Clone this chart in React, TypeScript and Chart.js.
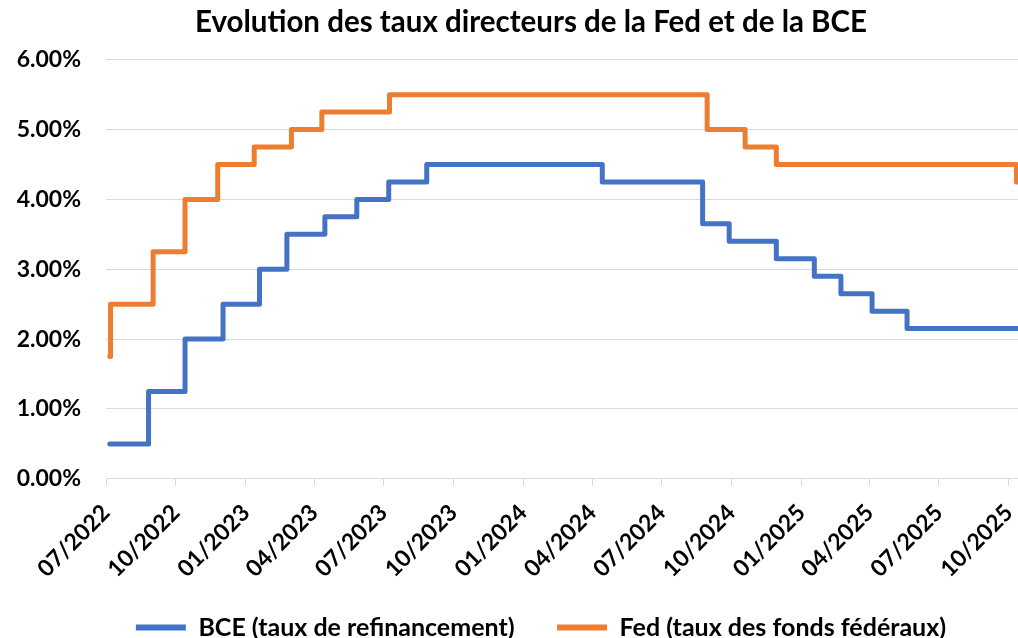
import { useEffect, useRef } from "react";
import { Chart, registerables } from "chart.js";

Chart.register(...registerables);

// ---- Data ----
const titleText = "Evolution des taux directeurs de la Fed et de la BCE";
const axisStart = "2022-07-01";
const axisEnd = "2025-10-13";
const xTickLabels = [
  "07/2022", "10/2022", "01/2023", "04/2023", "07/2023", "10/2023", "01/2024",
  "04/2024", "07/2024", "10/2024", "01/2025", "04/2025", "07/2025", "10/2025",
];
const yTickValues = [0, 1, 2, 3, 4, 5, 6];

const bceLabel = "BCE (taux de refinancement)";
const bceDates = [
  "2022-07-06", "2022-08-26", "2022-10-13", "2022-12-02", "2023-01-19", "2023-02-24",
  "2023-04-15", "2023-05-27", "2023-07-08", "2023-08-27", "2024-04-14", "2024-08-24",
  "2024-09-28", "2024-11-29", "2025-01-18", "2025-02-22", "2025-04-04", "2025-05-20",
  "2025-10-13",
];
const bceRates = [
  0.5, 1.25, 2.0, 2.5, 3.0, 3.5,
  3.75, 4.0, 4.25, 4.5, 4.25, 3.65,
  3.4, 3.15, 2.9, 2.65, 2.4, 2.15,
  2.15,
];

const fedLabel = "Fed (taux des fonds fédéraux)";
const fedDates = [
  "2022-07-06", "2022-07-07", "2022-09-01", "2022-10-13", "2022-11-25", "2023-01-12",
  "2023-03-02", "2023-04-11", "2023-07-09", "2024-08-30", "2024-10-19", "2024-11-29",
  "2025-10-11", "2025-10-13",
];
const fedRates = [
  1.75, 2.5, 3.25, 4.0, 4.5, 4.75,
  5.0, 5.25, 5.5, 5.0, 4.75, 4.5,
  4.25, 4.25,
];

// ---- Helpers ----
const DAY = 86400000;
const startMs = (() => {
  const [y, m, d] = axisStart.split("-").map(Number);
  return Date.UTC(y, m - 1, d);
})();
const dayOf = (iso: string) => {
  const [y, m, d] = iso.split("-").map(Number);
  return Math.round((Date.UTC(y, m - 1, d) - startMs) / DAY);
};
const tickDay = (label: string) => {
  const [m, y] = label.split("/").map(Number);
  return Math.round((Date.UTC(y, m - 1, 1) - startMs) / DAY);
};
const tickMap = new Map<number, string>(xTickLabels.map((l) => [tickDay(l), l]));

const FONT = "Lato, 'Noto Sans', sans-serif";
const BLUE = "#4472C4";
const ORANGE = "#ED7D31";
const GRID = "#d9d9d9";

const TITLE_SHIFT = 22;
const LEGEND_SHIFT = 32;

export default function App() {
  const ref = useRef<HTMLCanvasElement | null>(null);

  useEffect(() => {
    if (!ref.current) return;
    const blockShift = {
      id: "blockShift",
      afterLayout(chart: any) {
        const lg = chart.legend;
        if (lg) {
          lg.left += LEGEND_SHIFT;
          lg.right += LEGEND_SHIFT;
        }
        const tb = chart.titleBlock;
        if (tb) {
          tb.left += TITLE_SHIFT;
          tb.right += TITLE_SHIFT;
        }
      },
    };
    const chart = new Chart(ref.current, {
      type: "line",
      data: {
        datasets: [
          {
            label: bceLabel,
            data: bceDates.map((d, i) => ({ x: dayOf(d), y: bceRates[i] })),
            borderColor: BLUE,
            backgroundColor: BLUE,
            borderWidth: 5,
            pointRadius: 0,
            stepped: "before",
            borderCapStyle: "round",
            borderJoinStyle: "round",
          },
          {
            label: fedLabel,
            data: fedDates.map((d, i) => ({ x: dayOf(d), y: fedRates[i] })),
            borderColor: ORANGE,
            backgroundColor: ORANGE,
            borderWidth: 5,
            pointRadius: 0,
            stepped: "before",
            borderCapStyle: "round",
            borderJoinStyle: "round",
          },
        ],
      },
      options: {
        responsive: false,
        animation: false,
        devicePixelRatio: 1,
        layout: { padding: { left: 0, right: 0, top: 0, bottom: -12 } },
        plugins: {
          title: {
            display: true,
            text: titleText,
            color: "#000",
            font: { family: FONT, size: 29.5, weight: "bold", lineHeight: 1.2 },
            padding: { top: 4.3, bottom: 20.0 },
          },
          legend: {
            position: "bottom",
            labels: {
              color: "#000",
              font: { family: FONT, size: 25, weight: "bold" },
              boxWidth: 50,
              boxHeight: 6,
              padding: 42.5,
              useBorderRadius: true,
              borderRadius: 3,
              generateLabels: (c: any) =>
                c.data.datasets.map((ds: any, i: number) => ({
                  text: ds.label,
                  fillStyle: ds.borderColor,
                  strokeStyle: ds.borderColor,
                  lineWidth: 0,
                  hidden: false,
                  datasetIndex: i,
                  fontColor: "#000",
                })),
            },
          },
          tooltip: { enabled: false },
        },
        scales: {
          x: {
            type: "linear",
            min: 0,
            max: dayOf(axisEnd),
            afterBuildTicks: (scale: any) => {
              scale.ticks = xTickLabels.map((l) => ({ value: tickDay(l) }));
            },
            afterFit: (scale: any) => {
              scale.height = 93.7;
              scale.paddingRight = 0;
              scale.paddingLeft = 0;
              // let rotated labels draw past the axis box
              scale._computeLabelArea = () => undefined;
            },
            grid: {
              drawOnChartArea: false,
              drawTicks: true,
              tickLength: 7,
              color: GRID,
            },
            border: { display: true, color: GRID },
            ticks: {
              autoSkip: false,
              minRotation: 45,
              maxRotation: 45,
              padding: 23,
              color: "#000",
              font: { family: FONT, size: 23, weight: "bold", lineHeight: 0.01 },
              callback: (v: any) => tickMap.get(Math.round(Number(v))) ?? "",
            },
          },
          y: {
            min: 0,
            max: 6,
            afterBuildTicks: (scale: any) => {
              scale.ticks = yTickValues.map((v) => ({ value: v }));
            },
            afterFit: (scale: any) => {
              scale.width = 106;
            },
            grid: { color: GRID, drawTicks: false, lineWidth: 1 },
            border: { display: false },
            ticks: {
              padding: 25,
              color: "#000",
              font: { family: FONT, size: 23, weight: "bold" },
              callback: (v: any) => Number(v).toFixed(2) + "%",
            },
          },
        },
      },
      plugins: [blockShift],
    } as any);
    return () => chart.destroy();
  }, []);

  return (
    <div style={{ position: "fixed", left: 0, top: 0, width: 1018, height: 638, background: "#fff" }}>
      <canvas ref={ref} width={1018} height={638} style={{ display: "block" }} />
    </div>
  );
}
